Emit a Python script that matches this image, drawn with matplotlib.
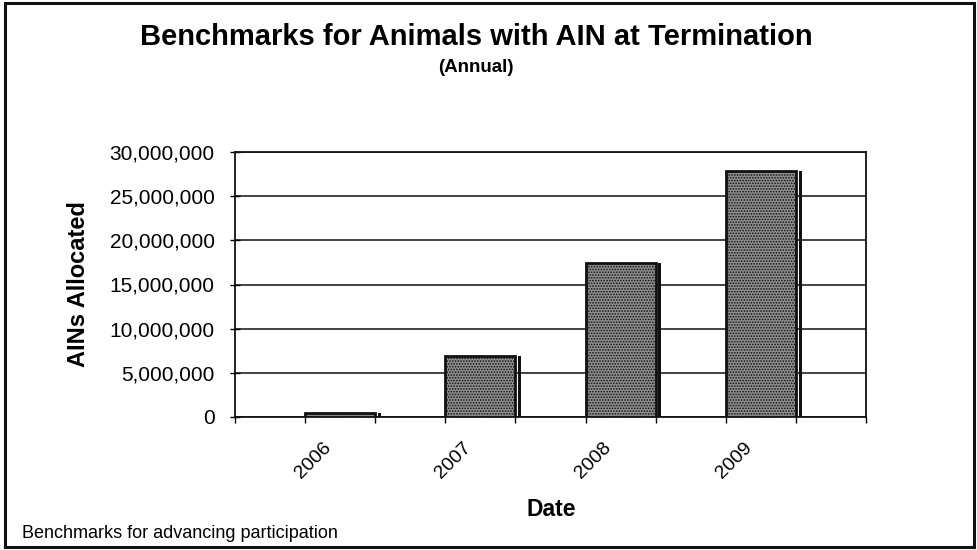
import matplotlib
matplotlib.use("Agg")
import matplotlib.pyplot as plt
import matplotlib.transforms as mtransforms
from matplotlib.ticker import FuncFormatter, FixedLocator
from matplotlib.patches import Rectangle
import numpy as np

plt.rcParams['font.family'] = ['Liberation Sans', 'DejaVu Sans']
plt.rcParams['hatch.linewidth'] = 0.8

years = ["2006", "2007", "2008", "2009"]
ains = [500000, 6900000, 17400000, 27900000]
title = "Benchmarks for Animals with AIN at Termination"
subtitle = "(Annual)"
ylabel = "AINs Allocated"
xlabel = "Date"
footnote = "Benchmarks for advancing participation"
yticks = [0, 5000000, 10000000, 15000000, 20000000, 25000000, 30000000]

W, H = 978, 550
fig = plt.figure(figsize=(W / 100, H / 100), dpi=100)
fig.patch.set_facecolor("white")

# figure frame
fig.add_artist(Rectangle((5 / W, 3 / H), 969 / W, 544 / H, transform=fig.transFigure,
                         fill=False, edgecolor="#111111", linewidth=2.2))

left, right, top, bottom = 235, 866, 152, 417
ax = fig.add_axes([left / W, 1 - bottom / H, (right - left) / W, (bottom - top) / H])

x = np.arange(len(years))
width = 0.5
ax.set_axisbelow(True)
ax.bar(x, ains, width=width, facecolor="#8e8e8e", edgecolor="#111111",
       linewidth=2, hatch="......", zorder=3)
# shadow strip to the right of each bar
ax.bar(x + width / 2 + 0.03, ains, width=0.022, color="#111111", zorder=3)

ax.set_xlim(-0.75, len(years) - 0.25)
ax.set_ylim(0, 30000000)
ax.yaxis.set_major_locator(FixedLocator(yticks))
ax.yaxis.set_major_formatter(FuncFormatter(lambda v, p: f"{int(v):,}"))
ax.grid(axis="y", color="#111111", linewidth=1.1)

edges = np.arange(-0.75, len(years) - 0.2, 0.5)
ax.set_xticks(edges)
ax.set_xticklabels([""] * len(edges))
ax.set_xticks(x, minor=True)
ax.set_xticklabels(years, minor=True, rotation=45, ha="center", va="center",
                   rotation_mode="anchor", fontsize=14)
ax.tick_params(axis="x", which="major", direction="out", length=4, width=1)
ax.tick_params(axis="x", which="minor", length=0, pad=31)
offset = mtransforms.ScaledTranslation(-27 / 100, 0, fig.dpi_scale_trans)
for lab in ax.get_xticklabels(minor=True):
    lab.set_transform(lab.get_transform() + offset)

ax.tick_params(axis="y", direction="inout", length=7, width=1, labelsize=15, pad=11)
for s in ax.spines.values():
    s.set_color("#111111")
    s.set_linewidth(1.3)

fig.text(476 / W, 1 - 45 / H, title, ha="center", va="baseline", fontsize=21, fontweight="bold")
fig.text(476 / W, 1 - 68 / H, subtitle, ha="center", va="center", fontsize=13.5, fontweight="bold")
fig.text(79 / W, 1 - 284 / H, ylabel, ha="center", va="center", rotation=90,
         fontsize=17, fontweight="bold")
fig.text(551 / W, 1 - 510 / H, xlabel, ha="center", va="center", fontsize=16.5, fontweight="bold")
fig.text(22 / W, 1 - 533 / H, footnote, ha="left", va="center", fontsize=13)

fig.savefig("out.png", dpi=100)
